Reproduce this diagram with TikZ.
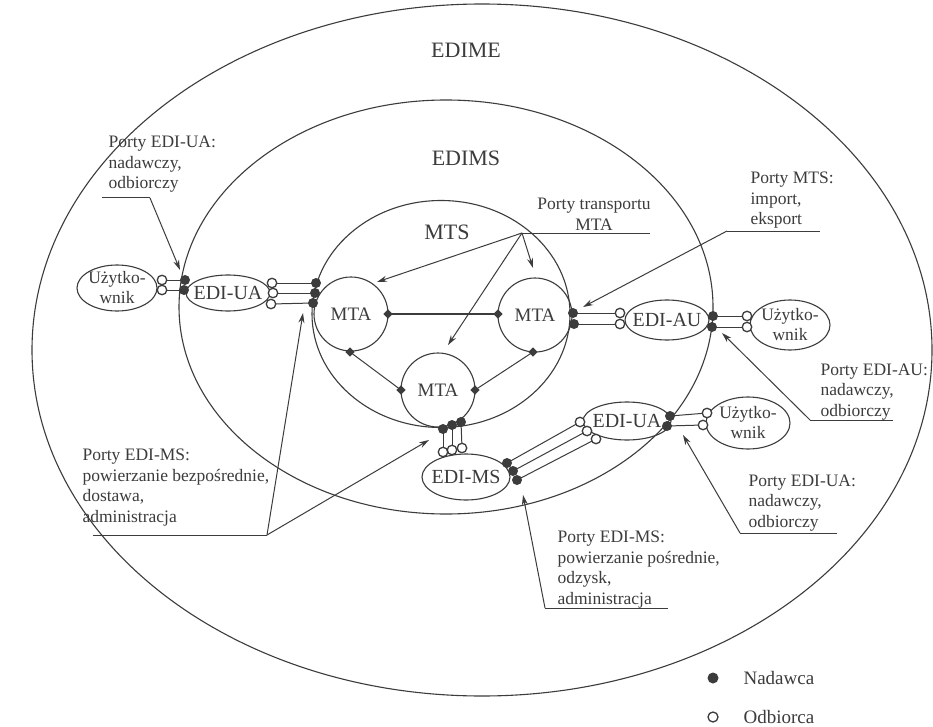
\documentclass[tikz,border=0pt]{standalone}
\usepackage{fontspec}
\setmainfont{Liberation Serif}
\usetikzlibrary{shapes.geometric,arrows.meta}
\definecolor{ink}{RGB}{60,60,60}
\begin{document}
\begin{tikzpicture}[x=1pt,y=-1pt,color=ink,line width=1.1pt,
  region/.style={draw=ink, ellipse, inner sep=0pt},
  bigtitle/.style={inner sep=0pt, font=\fontsize{22}{24}\selectfont},
  unitlbl/.style={inner sep=0pt, font=\fontsize{20}{22}\selectfont},
  userlbl/.style={inner sep=0pt, align=center, font=\fontsize{17.5}{20}\selectfont},
  mta/.style={draw=ink, circle, inner sep=0pt, minimum size=74pt, font=\fontsize{19}{20}\selectfont},
  snd/.style={circle, fill=ink, draw=none, minimum size=10pt, inner sep=0pt},
  rcv/.style={circle, draw=ink, fill=white, line width=1.3pt, minimum size=9.5pt, inner sep=0pt},
  tport/.style={diamond, fill=ink, draw=none, minimum size=9.5pt, inner sep=0pt},
  link/.style={draw=ink, line width=1pt},
  % multi-line notes are placed by the baseline of their last line
  note/.style={align=left, inner sep=0pt, anchor=base west, font=\fontsize{17.5}{20.5}\selectfont},
  ptr/.style={draw=ink, line width=1pt, -{Stealth[length=10pt,width=6pt]}},
  ]
\useasboundingbox[fill=white] (0,0) rectangle (933,727);

% domains
\node[region, minimum width=900pt, minimum height=692pt] (edime) at (482,350) {};
\node[region, minimum width=534pt, minimum height=414pt] (edims) at (446,307) {};
\node[region, minimum width=258pt, minimum height=227pt] (mts) at (441,314) {};
\node[bigtitle] (edimeLbl) at (466,50) {EDIME};
\node[bigtitle] (edimsLbl) at (466,158) {EDIMS};
\node[bigtitle] (mtsLbl) at (447,232) {MTS};

% message transfer agents
\node[mta] (mtaL) at (351,314) {MTA};
\node[mta] (mtaR) at (535,315) {MTA};
\node[mta] (mtaB) at (438,390) {MTA};

% agents and users
\node[region, minimum width=80pt, minimum height=46pt] (userL) at (117,288) {};
\node[userlbl] (userLLbl) at (userL) {Użytko-\\wnik};
\node[region, minimum width=84pt, minimum height=36pt] (uaL) at (228,293) {};
\node[unitlbl] (uaLLbl) at (uaL) {EDI-UA};
\node[region, minimum width=84pt, minimum height=40pt] (au) at (667,320) {};
\node[unitlbl] (auLbl) at (au) {EDI-AU};
\node[region, minimum width=80pt, minimum height=50pt] (userR) at (790,325) {};
\node[userlbl] (userRLbl) at (userR) {Użytko-\\wnik};
\node[region, minimum width=88pt, minimum height=46pt] (ms) at (466,477) {};
\node[unitlbl] (msLbl) at (ms) {EDI-MS};
\node[region, minimum width=88pt, minimum height=38pt] (uaB) at (627,421) {};
\node[unitlbl] (uaBLbl) at (uaB) {EDI-UA};
\node[region, minimum width=84pt, minimum height=52pt] (userB) at (748,423) {};
\node[userlbl] (userBLbl) at (userB) {Użytko-\\wnik};

% port positions
\coordinate (uL1) at (162,280); \coordinate (uL2) at (162,290);
\coordinate (aL1) at (185,280); \coordinate (aL2) at (184,290);
\coordinate (aR1) at (272,283); \coordinate (aR2) at (273,293); \coordinate (aR3) at (271,304);
\coordinate (mL1) at (316,283); \coordinate (mL2) at (315,293); \coordinate (mL3) at (313,303);
\coordinate (mR1) at (573,313); \coordinate (mR2) at (574,324);
\coordinate (auL1) at (620,313); \coordinate (auL2) at (620,324);
\coordinate (auR1) at (713,316); \coordinate (auR2) at (712,327);
\coordinate (uR1) at (747,316); \coordinate (uR2) at (747,327);
\coordinate (mB1) at (443,429); \coordinate (mB2) at (452,425); \coordinate (mB3) at (461,422);
\coordinate (msT1) at (443,452); \coordinate (msT2) at (452,450); \coordinate (msT3) at (462,448);
\coordinate (msR1) at (507,463); \coordinate (msR2) at (513,471); \coordinate (msR3) at (517,480);
\coordinate (bL1) at (580,422); \coordinate (bL2) at (587,431); \coordinate (bL3) at (596,439);
\coordinate (bR1) at (670,416); \coordinate (bR2) at (667,426);
\coordinate (uB1) at (707,413); \coordinate (uB2) at (703,425);
\coordinate (tLr) at (388,314); \coordinate (tRl) at (498,314);
\coordinate (tLb) at (350,352); \coordinate (tBl) at (401,390);
\coordinate (tRb) at (533,352); \coordinate (tBr) at (475,390);

% associations between ports
\foreach \a/\b in {uL1/aL1, uL2/aL2, aR1/mL1, aR2/mL2, aR3/mL3,
                   mR1/auL1, mR2/auL2, auR1/uR1, auR2/uR2,
                   mB1/msT1, mB2/msT2, mB3/msT3,
                   msR1/bL1, msR2/bL2, msR3/bL3, bR1/uB1, bR2/uB2}
  \draw[link] (\a) -- (\b);
\draw[link, line width=1.4pt] (tLr) -- (tRl);
\draw[link] (tLb) -- (tBl);
\draw[link] (tRb) -- (tBr);

% senders
\foreach \p in {aL1,aL2,mL1,mL2,mL3,mR1,mR2,auR1,auR2,mB1,mB2,mB3,msR1,msR2,msR3,bR1,bR2}
  \node[snd] (s-\p) at (\p) {};
% recipients
\foreach \p in {uL1,uL2,aR1,aR2,aR3,auL1,auL2,uR1,uR2,msT1,msT2,msT3,bL1,bL2,bL3,uB1,uB2}
  \node[rcv] (r-\p) at (\p) {};
% transport ports
\foreach \p in {tLr,tRl,tLb,tBl,tRb,tBr}
  \node[tport] (t-\p) at (\p) {};

% annotations
\node[note] (nUaL) at (108,189) {Porty EDI-UA:\\nadawczy,\\odbiorczy};
\coordinate (kUaL) at (150,198);
\draw[link] (102,198) -- (kUaL);
\draw[ptr] (kUaL) -- (180,270);

\node[note, align=center, anchor=base] (nTr) at (594,230) {Porty transportu\\MTA};
\coordinate (kTr) at (522,233);
\draw[link] (kTr) -- (650,233);
\draw[ptr] (kTr) -- (377,282);
\draw[ptr] (kTr) -- (533,268);
\draw[ptr] (kTr) -- (448,345);

\node[note] (nMts) at (750,225) {Porty MTS:\\import,\\eksport};
\coordinate (kMts) at (727,231);
\draw[link] (kMts) -- (820,231);
\draw[ptr] (kMts) -- (583,307);

\node[note] (nAu) at (820,416) {Porty EDI-AU:\\nadawczy,\\odbiorczy};
\coordinate (kAu) at (810,420);
\draw[link] (kAu) -- (893,420);
\draw[ptr] (kAu) -- (722,333);

\node[note] (nUaB) at (748,527) {Porty EDI-UA:\\nadawczy,\\odbiorczy};
\coordinate (kUaB) at (740,533);
\draw[link] (kUaB) -- (837,533);
\draw[ptr] (kUaB) -- (683,435);

\node[note] (nMsB) at (557,604) {Porty EDI-MS:\\powierzanie pośrednie,\\odzysk,\\administracja};
\coordinate (kMsB) at (545,608);
\draw[link] (kMsB) -- (668,608);
\draw[ptr] (kMsB) -- (523,495);

\node[note] (nMsL) at (82,522) {Porty EDI-MS:\\powierzanie bezpośrednie,\\dostawa,\\administracja};
\coordinate (kMsL) at (267,535);
\draw[link] (93,535) -- (kMsL);
\draw[ptr] (kMsL) -- (303,313);
\draw[ptr] (kMsL) -- (429,440);

% legend
\node[snd, minimum size=11pt] (legS) at (713,678) {};
\node[rcv, minimum size=10pt] (legR) at (713,717) {};
\node[note, font=\fontsize{19}{21}\selectfont] (legSLbl) at (743,684) {Nadawca};
\node[note, font=\fontsize{19}{21}\selectfont] (legRLbl) at (743,723) {Odbiorca};
\end{tikzpicture}
\end{document}
